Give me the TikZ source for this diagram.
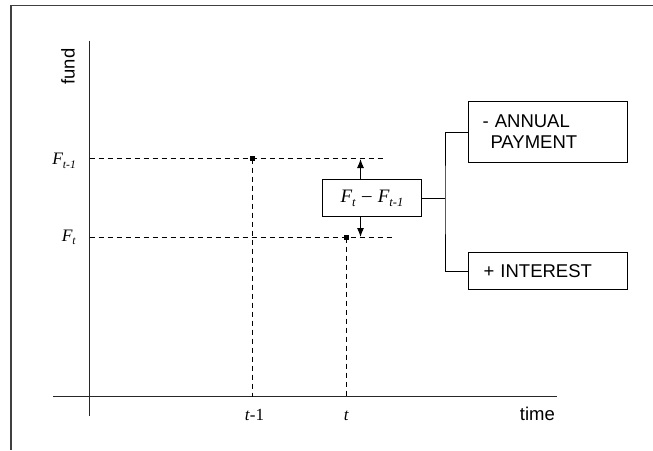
\documentclass[tikz,border=0pt]{standalone}
\usepackage{fontspec}
\usepackage{graphicx}
\setmainfont{Liberation Serif}
\setsansfont{Liberation Sans}
\usetikzlibrary{arrows.meta}

% F with an italic subscript
\newcommand\FundSub[1]{\textit{F}\kern-0.3pt\raisebox{-0.22em}{\scalebox{0.66}{\textit{#1}}}}

\tikzset{
  frameline/.style={line width=1.3pt, black!75},
  axisline/.style={line width=1pt, black!85},
  guide/.style={line width=1pt, dash pattern=on 5pt off 4pt},
  marker/.style={rectangle, fill=black, minimum size=5pt, inner sep=0pt},
  panel/.style={draw, line width=1pt, inner sep=0pt},
  sanslbl/.style={font=\fontsize{18.5}{21}\selectfont\sffamily, inner sep=0pt},
  axlbl/.style={font=\fontsize{17.5}{20}\selectfont\rmfamily, inner sep=0pt},
  ticklbl/.style={font=\fontsize{17}{20}\selectfont\rmfamily, inner sep=0pt},
  link/.style={line width=1pt},
  tip/.style={-{Latex[length=9pt,width=7pt]}, line width=1pt},
}

\begin{document}
\begin{tikzpicture}[x=1pt,y=-1pt]
\useasboundingbox (0,0) rectangle (653,450);

% outer frame (top and left edges)
\draw[frameline] (653,5.5) -- (11,5.5) -- (11,450);

% axes
\coordinate (ytop) at (89.5,40.5);
\coordinate (ybot) at (89.5,416);
\coordinate (xleft) at (53,396.5);
\coordinate (xright) at (557,396.5);
\draw[axisline] (ytop) -- (ybot);
\draw[axisline] (xleft) -- (xright);

\node[sanslbl, rotate=90] (fund) at (68,66.5) {fund};
\node[sanslbl, anchor=base east] (time) at (555,420.5) {time};

% levels and periods
\coordinate (prevL) at (89.5,158.5);
\coordinate (prevR) at (385,158.5);
\coordinate (currL) at (89.5,237.5);
\coordinate (currR) at (394,237.5);
\coordinate (prevB) at (252.5,396.5);
\coordinate (currB) at (346.5,396.5);

\node[axlbl, anchor=base east] (lprev) at (76,164.5) {\FundSub{t-1}};
\node[axlbl, anchor=base east] (lcurr) at (76,241) {\FundSub{t}};
\node[ticklbl, anchor=base] (tprev) at (254.5,420.5) {\textit{t}-1};
\node[ticklbl, anchor=base] (tcurr) at (346.5,420.5) {\textit{t}};

\draw[guide] (prevL) -- (prevR);
\draw[guide] (currL) -- (currR);

\node[marker] (dprev) at (252.5,158.5) {};
\node[marker] (dcurr) at (346.5,237.5) {};
\draw[guide] (dprev.center) -- (prevB);
\draw[guide] (dcurr.center) -- (currB);

% change in fund
\node[panel, minimum width=99pt, minimum height=37pt,
      font=\fontsize{19}{22}\selectfont\rmfamily] (diff) at (372,198)
      {\FundSub{t}\,\,\raisebox{0.05em}{\textendash}\,\,\FundSub{t-1}};
\coordinate (upEnd) at (360.5,159);
\coordinate (downEnd) at (360.5,237);
\draw[tip] (diff.north -| upEnd) -- (upEnd);
\draw[tip] (diff.south -| downEnd) -- (downEnd);

% components
\node[panel, minimum width=159pt, minimum height=61pt, inner xsep=14pt,
      text width=131pt, align=left, font=\fontsize{18.5}{21}\selectfont\sffamily]
      (annual) at (548,132) {- ANNUAL\\[0pt]\hspace*{8pt}PAYMENT};
\node[panel, minimum width=159pt, minimum height=37pt, inner xsep=15pt,
      text width=129pt, align=left, font=\fontsize{18.5}{21}\selectfont\sffamily]
      (interest) at (548,271) {+ INTEREST};

\draw[link] (diff.east) -- ++(23,0) coordinate (junction);
\draw[link] (annual.west) -| (junction) |- (interest.west);
\end{tikzpicture}
\end{document}
